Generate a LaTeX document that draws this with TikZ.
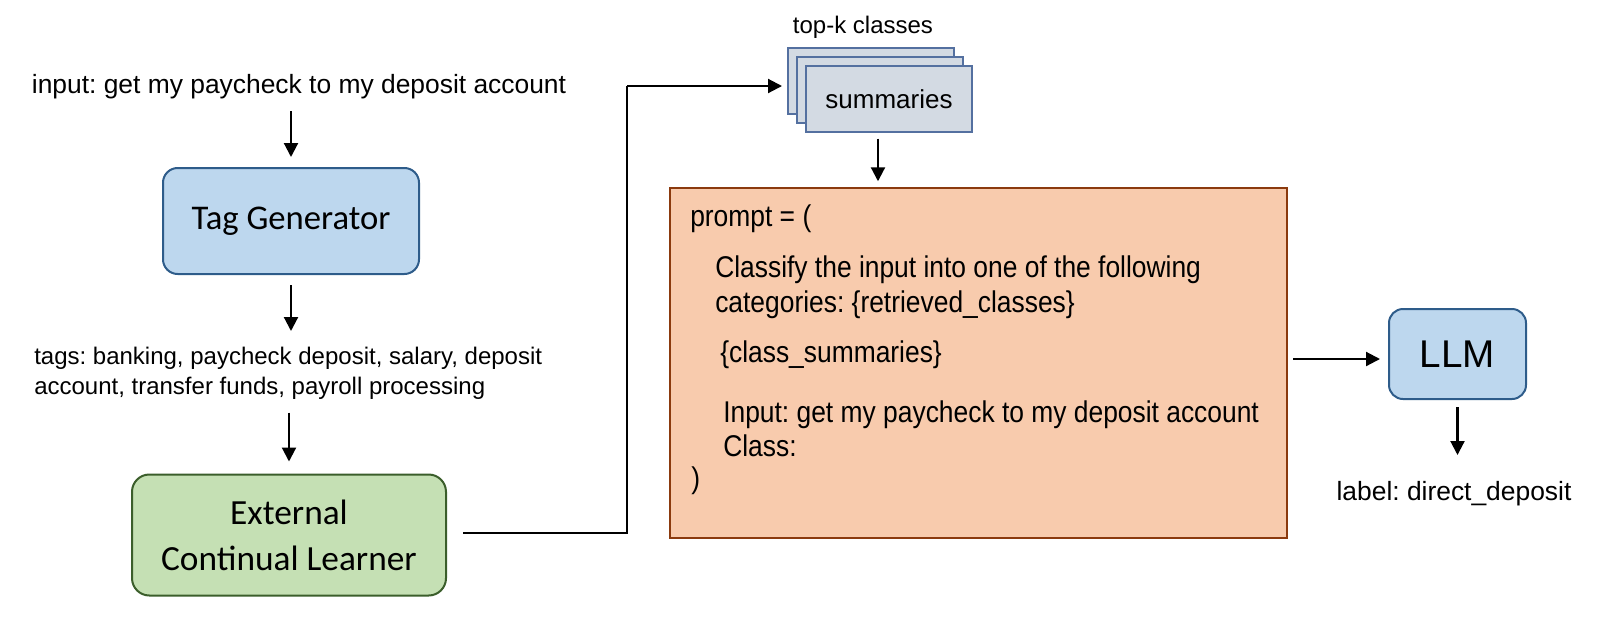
\documentclass[tikz,border=0pt]{standalone}
\usepackage{fontspec}
\setmainfont{Liberation Sans}
\newfontfamily\aptos{Carlito}
\newfontfamily\narrowfont[FakeStretch=0.88]{Liberation Sans}
\usetikzlibrary{arrows.meta,calc}
\definecolor{tgfill}{HTML}{BDD7EE}
\definecolor{tgdraw}{HTML}{2E5C8A}
\definecolor{eclfill}{HTML}{C5E0B4}
\definecolor{ecldraw}{HTML}{3B5E2B}
\definecolor{prfill}{HTML}{F8CBAD}
\definecolor{prdraw}{HTML}{8B3A0E}
\definecolor{cdfill}{HTML}{D3DAE3}
\definecolor{cddraw}{HTML}{5470A0}
\frenchspacing
\tikzset{
  arr/.style={draw=black, line width=1.6pt, -{Triangle[length=10.5pt,width=10.5pt]}},
  plain/.style={font=\fontsize{19.8}{22.5}\selectfont, inner sep=0pt},
  bluebox/.style={draw=tgdraw, fill=tgfill, line width=1.5pt, rounded corners=11pt, inner sep=0pt},
  greenbox/.style={draw=ecldraw, fill=eclfill, line width=1.5pt, rounded corners=13pt, inner sep=0pt},
  card/.style={draw=cddraw, fill=cdfill, line width=1.1pt, minimum width=124.5pt, minimum height=49.5pt, inner sep=0pt},
  ptext/.style={anchor=base west, inner sep=0pt, font=\narrowfont\fontsize{22.5}{25.5}\selectfont}
}
\begin{document}
\frenchspacing
\begin{tikzpicture}[x=0.75pt,y=-0.75pt]
\useasboundingbox (0,0) rectangle (1600,626);
% left column
\node[plain, anchor=base] (inp) at (299,93) {input: get my paycheck to my deposit account};
\node[bluebox, minimum width=192pt, minimum height=79.5pt, font=\aptos\fontsize{26}{30}\selectfont] (tg) at (291,221) {Tag Generator};
\node[plain, anchor=base west, align=left, font=\fontsize{18}{22.3}\selectfont] (tags) at (34,394) {tags: banking, paycheck deposit, salary, deposit\\account, transfer funds, payroll processing};
\node[greenbox, minimum width=235.5pt, minimum height=90.75pt, align=center, font=\aptos\fontsize{26.5}{34.5}\selectfont] (ecl) at (289,535) {External\\Continual Learner};
\draw[arr] ($(tg.north)+(0,-56)$) -- ($(tg.north)+(0,-10)$);
\draw[arr] ($(tg.south)+(0,10)$) -- ($(tg.south)+(0,56)$);
\draw[arr] ($(ecl.north)+(0,-61)$) -- ($(ecl.north)+(0,-12)$);
% cards
\node[plain, anchor=base, font=\fontsize{18}{21}\selectfont] (topk) at (863,33) {top-k classes};
\node[card] (back) at (871,81) {};
\node[card] (mid) at (880,90) {};
\node[card, font=\fontsize{19.5}{22.5}\selectfont] (front) at (889,99) {summaries};
\coordinate (turn) at (627,86);
\coordinate (cardin) at (782,86);
\draw[line width=1.6pt] ($(ecl.east)+(16,-2)$) -| (turn);
\draw[arr] (turn) -- (cardin);
% prompt box
\node[draw=prdraw, fill=prfill, line width=1.1pt, minimum width=462.75pt, minimum height=262.5pt, inner sep=0pt] (prompt) at (978.5,363) {};
\draw[arr] ($(mid.south)+(-2,15)$) -- ($(prompt.north)+(-100.5,-6)$);
\node[ptext] (p1) at (690,226) {prompt = (};
\node[ptext] (p2) at (715,277) {Classify the input into one of the following};
\node[ptext] (p3) at (715,312) {categories: \{retrieved\_classes\}};
\node[ptext] (p4) at (720,362) {\{class\_summaries\}};
\node[ptext] (p5) at (723,422) {Input: get my paycheck to my deposit account};
\node[ptext] (p6) at (723,456) {Class:};
\node[ptext] (p7) at (691,488) {)};
% LLM
\node[bluebox, rounded corners=10.5pt, minimum width=102.75pt, minimum height=67.5pt, font=\fontsize{29}{33}\selectfont] (llm) at (1457.5,354) {LLM};
\draw[arr] ($(llm.west)+(-95,5)$) -- ($(llm.west)+(-8,5)$);
\draw[arr] ($(llm.south)+(0,7)$) -- ($(llm.south)+(0,55)$);
\node[plain, anchor=base] (lab) at (1454,500) {label: direct\_deposit};
\end{tikzpicture}
\end{document}
